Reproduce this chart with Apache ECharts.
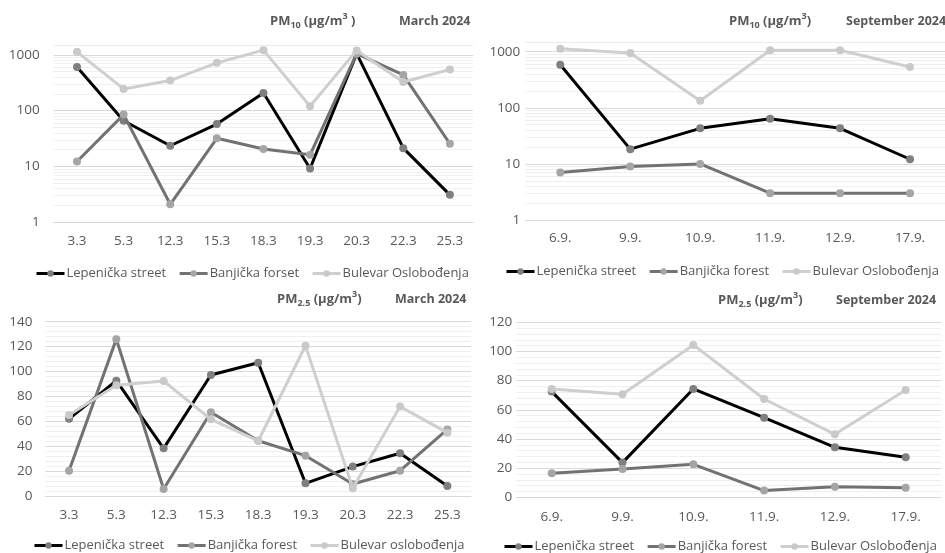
<!DOCTYPE html>
<html>
<head>
<meta charset="utf-8">
<script src="https://cdn.jsdelivr.net/npm/echarts@6/dist/echarts.min.js"></script>
<style>html,body{margin:0;padding:0;background:#fff;}#c{width:945px;height:553px;}</style>
</head>
<body>
<div id="c"></div>
<script>
// ---- categories ----
const marchDates = ['3.3', '5.3', '12.3', '15.3', '18.3', '19.3', '20.3', '22.3', '25.3'];
const septDates = ['6.9.', '9.9.', '10.9.', '11.9.', '12.9.', '17.9.'];

// ---- PM10 March 2024 (log scale) ----
const pm10MarLepenicka = [608, 66, 23.5, 57.6, 207, 9.2, 1050, 21.3, 3.1];
const pm10MarBanjicka = [12.3, 85, 2.1, 32, 20.5, 16.2, 1050, 437, 25.5];
const pm10MarBulevar = [1130, 245, 346, 718, 1213, 120, 1200, 327, 545];

// ---- PM10 September 2024 (log scale) ----
const pm10SepLepenicka = [586, 18.3, 43, 64, 43, 12.1];
const pm10SepBanjicka = [7, 9, 10, 3, 3, 3];
const pm10SepBulevar = [1132, 947, 133, 1057, 1057, 532];

// ---- PM2.5 March 2024 ----
const pm25MarLepenicka = [62, 92.6, 38.3, 97.2, 107, 10.2, 23.6, 34.3, 8];
const pm25MarBanjicka = [20.3, 126, 5.6, 67.2, 44.4, 32.4, 9.6, 20.3, 53.5];
const pm25MarBulevar = [65, 89, 92.4, 61.6, 44.2, 120.7, 6.2, 71.8, 50.9];

// ---- PM2.5 September 2024 ----
const pm25SepLepenicka = [72.5, 23.8, 74.3, 54.6, 34.3, 27.4];
const pm25SepBanjicka = [16.5, 19.4, 22.6, 4.6, 7.3, 6.6];
const pm25SepBulevar = [74.3, 70.6, 104.5, 67.4, 43.2, 73.6];

// ---- tick labels ----
const logMajorTicks = [1, 10, 100, 1000];
const logMinorTicks = [2, 3, 4, 5, 6, 7, 8, 9, 20, 30, 40, 50, 60, 70, 80, 90, 200, 300, 400, 500, 600, 700, 800, 900];

// ---- legend names ----
const legend1 = ['Lepenička street', 'Banjička forset', 'Bulevar Oslobođenja'];
const legend2 = ['Lepenička street', 'Banjička forest', 'Bulevar Oslobođenja'];
const legend3 = ['Lepenička street', 'Banjička forest', 'Bulevar oslobođenja'];
const legend4 = ['Lepenička street', 'Banjička forest', 'Bulevar Oslobođenja'];

const FONT = 'Open Sans';
const TXT = '#595959';
const styles = [
  { line: '#000000', marker: '#7f7f7f' },
  { line: '#767171', marker: '#a5a5a5' },
  { line: '#d0cece', marker: '#c9c9c9' }
];

const grids = [
  { left: 53.7, top: 45, width: 419.5, height: 177.3 },
  { left: 525.3, top: 41.8, width: 424, height: 178.2 },
  { left: 45.4, top: 321.7, width: 425.6, height: 174.3 },
  { left: 516.3, top: 322.3, width: 424.8, height: 175 }
];

function xAxis(idx, data, margin) {
  return {
    type: 'category', gridIndex: idx, data: data, boundaryGap: true,
    axisLine: { show: true, lineStyle: { color: '#d9d9d9', width: 1 } },
    axisTick: { show: false },
    axisLabel: { color: TXT, fontFamily: FONT, fontSize: 13.5, margin: margin },
    splitLine: { show: false }
  };
}
function logYAxis(idx, margin) {
  return {
    type: 'log', logBase: 10, gridIndex: idx, min: 1, max: 1500,
    axisLine: { show: false }, axisTick: { show: false },
    axisLabel: {
      color: TXT, fontFamily: FONT, fontSize: 13.5, margin: margin,
      formatter: function (v) { return logMajorTicks.indexOf(Math.round(v)) >= 0 && Math.abs(v - Math.round(v)) < 1e-6 ? String(Math.round(v)) : ''; }
    },
    splitLine: { show: true, lineStyle: { color: ['#d9d9d9', '#d9d9d9', '#d9d9d9', '#d9d9d9', '#ececec'], width: 1 } }
  };
}
function valYAxis(idx, max, margin) {
  return {
    type: 'value', gridIndex: idx, min: 0, max: max, interval: 20,
    axisLine: { show: false }, axisTick: { show: false },
    minorTick: { show: false, splitNumber: 5 },
    minorSplitLine: { show: true, lineStyle: { color: '#efefef', width: 1 } },
    axisLabel: { color: TXT, fontFamily: FONT, fontSize: 13.5, margin: margin },
    splitLine: { show: true, lineStyle: { color: '#d9d9d9', width: 1 } }
  };
}
function mkSeries(name, data, k, idx, withMinor) {
  const s = {
    type: 'line', name: name, data: data, xAxisIndex: idx, yAxisIndex: idx,
    symbol: 'circle', symbolSize: 8, showSymbol: true,
    lineStyle: { color: styles[k].line, width: 3 },
    itemStyle: { color: styles[k].marker },
    emphasis: { disabled: true },
    z: 3 + k
  };
  if (withMinor) {
    s.markLine = {
      silent: true, symbol: ['none', 'none'], label: { show: false },
      lineStyle: { color: '#efefef', type: 'solid', width: 1 },
      z: 1, animation: false,
      data: logMinorTicks.map(function (v) { return { yAxis: v }; })
    };
  }
  return s;
}
function legend(names, left, top) {
  return {
    data: names, left: left, top: top, orient: 'horizontal', padding: 0, width: 460,
    itemWidth: 28, itemHeight: 8, itemGap: 12,
    lineStyle: { width: 3 },
    textStyle: { color: TXT, fontFamily: FONT, fontSize: 13, padding: [0, 0, 0, -3] },
    selectedMode: false
  };
}
const richT = {
  b: { fontFamily: FONT, fontSize: 13, fontWeight: 'bold', color: TXT, lineHeight: 18 },
  s: { fontFamily: FONT, fontSize: 9, fontWeight: 'bold', color: TXT, lineHeight: 10, verticalAlign: 'bottom' },
  p: { fontFamily: FONT, fontSize: 9, fontWeight: 'bold', color: TXT, lineHeight: 10, verticalAlign: 'top' },
  d: { fontFamily: FONT, fontSize: 12.5, fontWeight: 'bold', color: TXT, lineHeight: 18 }
};
function title(text, left, top) {
  return { text: text, left: left, top: top, padding: 0, textStyle: { rich: richT, fontFamily: FONT, fontSize: 13, fontWeight: 'bold', color: TXT } };
}

const option = {
  animation: false,
  backgroundColor: '#ffffff',
  title: [
    title('{b|PM}{s|10}{b| (µg/m}{p|3}{b| )}', 270, 12),
    title('{d|March 2024}', 399, 12),
    title('{b|PM}{s|10}{b| (µg/m}{p|3}{b|)}', 729, 12),
    title('{d|September 2024}', 846, 12),
    title('{b|PM}{s|2.5}{b| (µg/m}{p|3}{b|)}', 277, 290),
    title('{d|March 2024}', 395, 290),
    title('{b|PM}{s|2.5}{b| (µg/m}{p|3}{b|)}', 718, 291),
    title('{d|September 2024}', 836, 291)
  ],
  grid: grids,
  xAxis: [xAxis(0, marchDates, 12), xAxis(1, septDates, 11), xAxis(2, marchDates, 12), xAxis(3, septDates, 13)],
  yAxis: [logYAxis(0, 14), logYAxis(1, 5), valYAxis(2, 140, 13), valYAxis(3, 120, 4)],
  legend: [legend(legend1, 35, 267), legend(legend2, 505, 265), legend(legend3, 33, 539), legend(legend4, 503, 540)],
  series: [
    mkSeries(legend1[0], pm10MarLepenicka, 0, 0, true),
    mkSeries(legend1[1], pm10MarBanjicka, 1, 0, false),
    mkSeries(legend1[2], pm10MarBulevar, 2, 0, false),
    mkSeries(legend2[0], pm10SepLepenicka, 0, 1, true),
    mkSeries(legend2[1], pm10SepBanjicka, 1, 1, false),
    mkSeries(legend2[2], pm10SepBulevar, 2, 1, false),
    mkSeries(legend3[0], pm25MarLepenicka, 0, 2, false),
    mkSeries(legend3[1], pm25MarBanjicka, 1, 2, false),
    mkSeries(legend3[2], pm25MarBulevar, 2, 2, false),
    mkSeries(legend4[0], pm25SepLepenicka, 0, 3, false),
    mkSeries(legend4[1], pm25SepBanjicka, 1, 3, false),
    mkSeries(legend4[2], pm25SepBulevar, 2, 3, false)
  ]
};
const chart = echarts.init(document.getElementById('c'), null, { renderer: 'canvas' });
chart.setOption(option);
</script>
</body>
</html>
